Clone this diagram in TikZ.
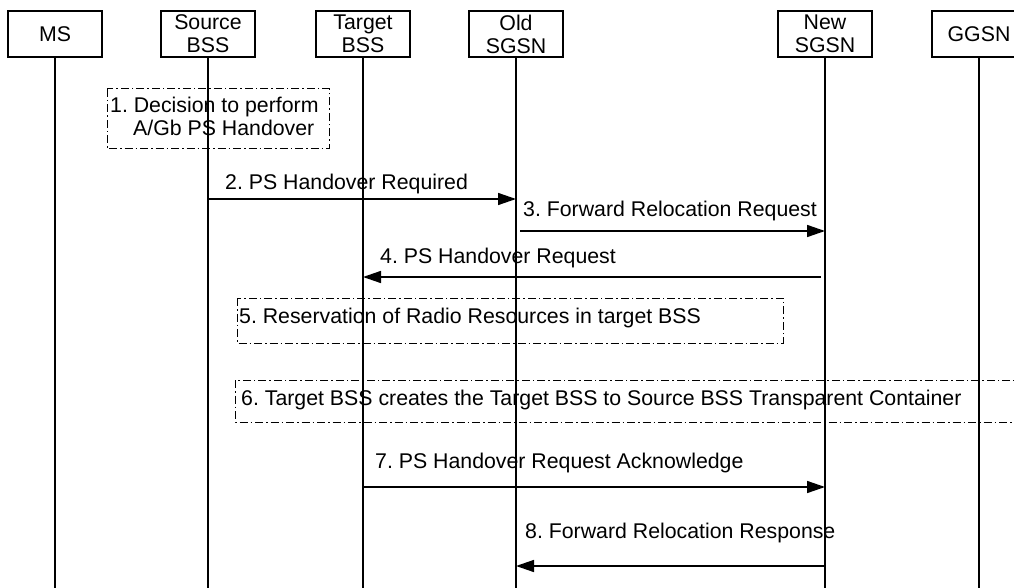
\documentclass[tikz,border=0pt]{standalone}
\usepackage{fontspec}
\setmainfont{Liberation Sans}
\usetikzlibrary{arrows.meta,calc}
\frenchspacing
\begin{document}
\begin{tikzpicture}[x=1pt,y=-1pt,
  txtfont/.style={font=\fontsize{21.3}{23}\selectfont\frenchspacing},
  hdr/.style={draw,line width=2pt,minimum width=94pt,minimum height=46pt,inner sep=0pt,align=center,txtfont},
  life/.style={line width=2pt},
  msg/.style={line width=1.5pt,-{Triangle[length=18pt,width=12pt]}},
  lbl/.style={anchor=west,inner sep=0pt,align=left,txtfont},
  actbox/.style={draw,line width=1pt,dash pattern=on 8pt off 3pt on 1.5pt off 3pt}]
\clip (0,0) rectangle (1014,588);
\fill[white] (0,0) rectangle (1014,588);
% header boxes
\node[hdr] (ms)   at (55,34)  {MS};
\node[hdr] (src)  at (208,34) {Source\\BSS};
\node[hdr] (tgt)  at (363,34) {Target\\BSS};
\node[hdr] (old)  at (516,34) {Old\\SGSN};
\node[hdr] (new)  at (825,34) {New\\SGSN};
\node[hdr] (ggsn) at (979,34) {GGSN};
\coordinate (bot) at (0,588);
\foreach \n in {ms,src,tgt,old,new,ggsn}
  \draw[life] (\n.south) -- (\n.south |- bot);
% 1
\draw[actbox] (107,89) rectangle (329,149);
\node[lbl] (t1) at (110,116.5) {1. Decision to perform\\\hspace*{23pt}A/Gb PS Handover};
% 2
\coordinate (y2) at (0,199);
\draw[msg] (src |- y2) -- (old |- y2);
\node[lbl] (l2) at (225,184) {2. PS Handover Required};
% 3
\coordinate (y3) at (0,231);
\draw[msg] ($(old |- y3)+(4,0)$) -- (new |- y3);
\node[lbl] (l3) at (523,211) {3. Forward Relocation Request};
% 4
\coordinate (y4) at (0,277);
\draw[msg] ($(new |- y4)+(-4,0)$) -- (tgt |- y4);
\node[lbl] (l4) at (380,258) {4. PS Handover Request};
% 5
\draw[actbox] (237,298) rectangle (783,343);
\node[lbl] (t5) at (239,318) {5. Reservation of Radio Resources in target BSS};
% 6
\draw[actbox] (235,380) rectangle (1030,422);
\node[lbl] (t6) at (241,400) {6. Target BSS creates the Target BSS to Source BSS Transparent Container};
% 7
\coordinate (y7) at (0,487);
\draw[msg] (tgt |- y7) -- (new |- y7);
\node[lbl] (l7) at (375,463) {7. PS Handover Request Acknowledge};
% 8
\coordinate (y8) at (0,566);
\draw[msg] (new |- y8) -- (old |- y8);
\node[lbl] (l8) at (525,533) {8. Forward Relocation Response};
\end{tikzpicture}
\end{document}
